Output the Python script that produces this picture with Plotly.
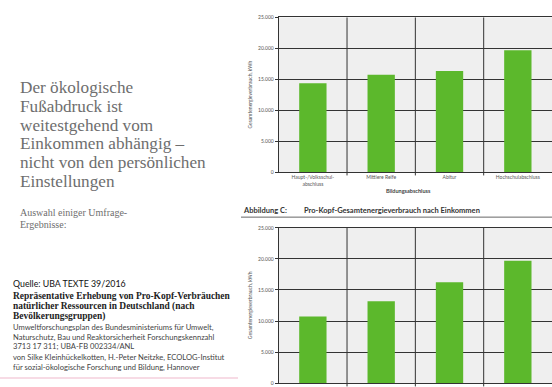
import plotly.graph_objects as go

W, H = 552, 387

# ---- data ----
edu_categories = ["Haupt-/Volksschul-<br>abschluss", "Mittlere Reife", "Abitur", "Hochschulabschluss"]
edu_values = [14400, 15750, 16350, 19700]
inc_categories = ["Einkommen 1", "Einkommen 2", "Einkommen 3", "Einkommen 4"]
inc_values = [10750, 13200, 16250, 19700]
y_tickvals = [0, 5000, 10000, 15000, 20000, 25000]

title_lines = ["Der ökologische", "Fußabdruck ist", "weitestgehend vom",
               "Einkommen abhängig –", "nicht von den persönlichen", "Einstellungen"]
sub_lines = ["Auswahl einiger Umfrage-", "Ergebnisse:"]
source_line = "Quelle: UBA TEXTE 39/2016"
bold_lines = ["Repräsentative Erhebung von Pro-Kopf-Verbräuchen",
              "natürlicher Ressourcen in Deutschland (nach",
              "Bevölkerungsgruppen)"]
info_lines = ["Umweltforschungsplan des Bundesministeriums für Umwelt,",
              "Naturschutz, Bau und Reaktorsicherheit Forschungskennzahl",
              "3713 17 311; UBA-FB 002334/ANL"]
author_lines = ["von Silke Kleinhückelkotten, H.-Peter Neitzke, ECOLOG-Institut",
                "für sozial-ökologische Forschung und Bildung, Hannover"]
ytitle = "Gesamtenergieverbrauch, kWh"
xtitle_top = "Bildungsabschluss"
fig_label = "Abbildung C:"
fig_title = "Pro-Kopf-Gesamtenergieverbrauch nach Einkommen"

GREEN = "#5cb82c"
GRID = "#333333"
BG = "#efefef"


def px(x):
    return x / W


def py(y):
    return 1 - y / H


fig = go.Figure()
fig.add_trace(go.Bar(x=edu_categories, y=edu_values, marker=dict(color=GREEN, line=dict(width=0)),
                     width=0.4, xaxis="x", yaxis="y", showlegend=False))
fig.add_trace(go.Bar(x=inc_categories, y=inc_values, marker=dict(color=GREEN, line=dict(width=0)),
                     width=0.4, xaxis="x2", yaxis="y2", showlegend=False))

xdom = [px(278.7), 1.0]
ydom_top = [py(172), py(14.7)]
ydom_bot = [py(386.3), py(228.3)]

axis_common_y = dict(range=[0, 25000], tickvals=y_tickvals, tickformat=",d",
                     showgrid=True, gridcolor=GRID, gridwidth=1,
                     showline=True, linecolor=GRID, linewidth=1,
                     ticks="outside", ticklen=3, tickcolor=GRID,
                     tickfont=dict(family="Lato", size=5, color="#555555"),
                     zeroline=False, fixedrange=True)

fig.update_layout(
    width=W, height=H, autosize=False,
    margin=dict(l=0, r=0, t=0, b=0),
    paper_bgcolor="white", plot_bgcolor=BG,
    separators=",.",
    bargap=0.6,
    xaxis=dict(domain=xdom, anchor="y", type="category", range=[-0.5, 3.5],
               showline=True, linecolor=GRID, linewidth=1, mirror=True,
               showgrid=False, ticks="", tickfont=dict(family="Lato", size=5, color="#555555"),
               fixedrange=True),
    yaxis=dict(domain=ydom_top, anchor="x", **axis_common_y),
    xaxis2=dict(domain=xdom, anchor="y2", type="category", range=[-0.5, 3.5],
                showline=True, linecolor=GRID, linewidth=1, mirror=True,
                showgrid=False, ticks="", showticklabels=False, fixedrange=True),
    yaxis2=dict(domain=ydom_bot, anchor="x2", **axis_common_y),
)

shapes = []
for xr, yr in (("x", "y"), ("x2", "y2")):
    for b in (0.5, 1.5, 2.5):
        shapes.append(dict(type="line", xref=xr, yref=yr + " domain", x0=b, x1=b, y0=-0.02, y1=1,
                           line=dict(color=GRID, width=1)))
# title underline
shapes.append(dict(type="line", xref="paper", yref="paper", x0=px(241), x1=1, y0=py(217.5), y1=py(217.5),
                   line=dict(color="#666666", width=1)))
# pink separator line at bottom-left
shapes.append(dict(type="line", xref="paper", yref="paper", x0=0, x1=px(238), y0=py(381), y1=py(381),
                   line=dict(color="#f4cfdc", width=1.5)))
fig.update_layout(shapes=shapes)

ann = []


def text(t, x, y, size, family, color, bold=False, xanchor="left", angle=0):
    if bold:
        t = "<b>" + t + "</b>"
    ann.append(dict(text=t, x=px(x), y=py(y), xref="paper", yref="paper", xanchor=xanchor,
                    yanchor="middle", showarrow=False, textangle=angle,
                    font=dict(family=family, size=size, color=color)))


for i, t in enumerate(title_lines):
    text(t, 18, 86 + i * 19, 17.2, "Liberation Serif", "#6e6e6e")
for i, t in enumerate(sub_lines):
    text(t, 18, 213 + i * 12, 10, "Liberation Serif", "#6e6e6e")
text(source_line, 11, 285, 8.8, "Lato", "#111111")
for i, t in enumerate(bold_lines):
    text(t, 11, 298 + i * 10, 9.45, "Liberation Serif", "#222222", bold=True)
for i, t in enumerate(info_lines):
    text(t, 11, 329.5 + i * 9.5, 7.6, "Lato", "#444444")
for i, t in enumerate(author_lines):
    text(t, 11, 360 + i * 9.7, 7.6, "Lato", "#444444")

text(ytitle, 250, 93, 5, "Lato", "#555555", xanchor="center", angle=-90)
text(ytitle, 250, 307, 5, "Lato", "#555555", xanchor="center", angle=-90)
text(xtitle_top, 408, 190.5, 5.5, "Lato", "#444444", bold=True, xanchor="center")
text(fig_label, 241, 210.5, 7.5, "Lato", "#333333", bold=True)
text(fig_title, 301.5, 210.5, 7.5, "Lato", "#333333", bold=True)

fig.update_layout(annotations=ann)
fig.write_html("out.html")
